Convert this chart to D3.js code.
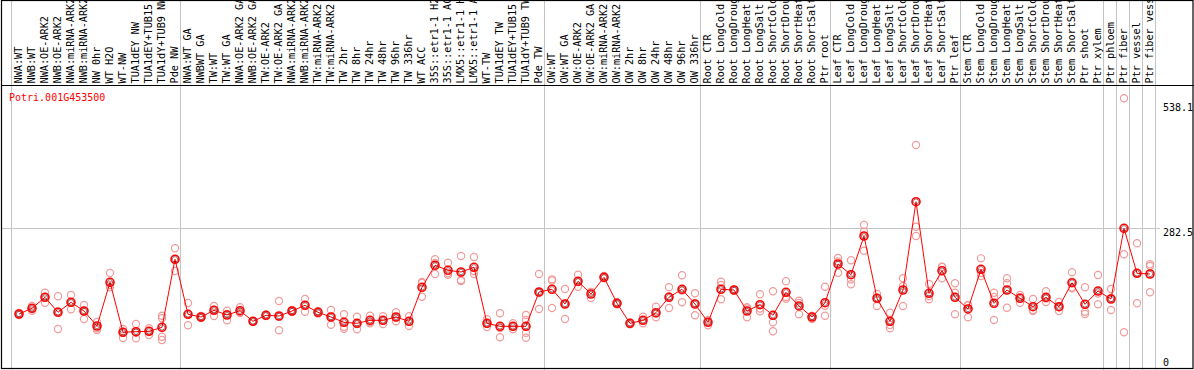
<!DOCTYPE html>
<html><head><meta charset="utf-8">
<script src="https://cdn.jsdelivr.net/npm/d3@7"></script>
<style>html,body{margin:0;padding:0;background:#fff;}svg{display:block;}</style>
</head><body>
<svg id="c" width="1194" height="370"></svg>
<script>
const gene = "Potri.001G453500";
const categories = ["NWA:WT","NWB:WT","NWA:OE-ARK2","NWB:OE-ARK2","NWA:miRNA-ARK2","NWB:miRNA-ARK2","NW 0hr","WT H2O","WT-NW","TUA1dEY NW","TUA1dEY+TUB15 NW","TUA1dY+TUB9 NW","Pde NW",
"NWA:WT GA","NWBWT GA","TW:WT","TW:WT GA","NWA:OE-ARK2 GA","NWB:OE-ARK2 GA","TW:OE-ARK2","TW:OE-ARK2 GA","NWA:miRNA-ARK2","NWB:miRNA-ARK2","TW:miRNA-ARK2","TW:miRNA-ARK2","TW 2hr","TW 8hr","TW 24hr","TW 48hr","TW 96hr","TW 336hr","WT ACC","35S::etr1-1 H2O","35S::etr1-1 ACC","LMX5::etr1-1 H2O","LMX5::etr1-1 ACC","WT-TW","TUA1dEY TW","TUA1dEY+TUB15 TW","TUA1dY+TUB9 TW","Pde TW",
"OW:WT","OW:WT GA","OW:OE-ARK2","OW:OE-ARK2 GA","OW:miRNA-ARK2","OW:miRNA-ARK2","OW 2hr","OW 8hr","OW 24hr","OW 48hr","OW 96hr","OW 336hr",
"Root CTR","Root LongCold","Root LongDrought","Root LongHeat","Root LongSalt","Root ShortCold","Root ShortDrought","Root ShortHeat","Root ShortSalt","Ptr root",
"Leaf CTR","Leaf LongCold","Leaf LongDrought","Leaf LongHeat","Leaf LongSalt","Leaf ShortCold","Leaf ShortDrought","Leaf ShortHeat","Leaf ShortSalt","Ptr leaf",
"Stem CTR","Stem LongCold","Stem LongDrought","Stem LongHeat","Stem LongSalt","Stem ShortCold","Stem ShortDrought","Stem ShortHeat","Stem ShortSalt","Ptr shoot","Ptr xylem",
"Ptr phloem","Ptr fiber","Ptr vessel","Ptr fiber vessel"];
const means = [114.0,125.2,146.9,117.4,137.0,119.9,90.4,176.4,78.1,79.2,80.0,87.9,221.6,
113.4,108.1,121.3,112.1,120.5,99.7,111.5,110.1,119.9,131.1,117.4,108.1,97.7,95.7,101.6,101.6,108.1,99.7,166.5,209.8,199.9,196.6,205.8,95.7,89.8,89.8,89.8,157.3,
162.6,133.7,178.3,153.3,186.2,135.1,95.7,101.6,116.6,146.9,162.6,133.7,
97.7,162.6,161.2,119.9,132.3,111.5,156.7,129.8,108.1,136.2,
212.3,191.3,267.4,144.9,99.7,161.2,334.8,154.7,199.2,146.9,
123.9,201.9,135.1,161.2,144.9,128.4,146.9,128.4,175.6,133.1,159.2,
143.5,282.5,194.0,192.7];
const replicates = [[112,116,114],[129.8,120.5,125.2],[155.9,136.2,147.4],[148.8,84.5,118.9],[151.4,123.3,136],[131.7,104.2,119.9],[98.3,82.6,85.9],[194.6,166.5,171.0],[84.5,66.8,78.6],[94.4,66.3,77.3],[85.9,72.7,80.6],[110.7,105.6,69.4,62.9],[243.2,198.6,222.2],
[135.7,91.8,114],[106,110,108],[129.8,110.1,121.9],[120.5,101.6,114.0],[127.2,118,116],[100.3,99,99.7],[112,110,112.6],[139.6,82.0,108.7],[118,122,119.9],[143.5,118.5,131.6],[117.4,115,120],[121.9,93.0,109.2],[113.4,89.1,85.1],[108.7,83.9,94.4],[110.7,95.7,98.3],[109.5,94.4,101.2],[117.4,99.7,107.5],[109.5,90.4,99.3],[176.9,148.0,175.0],[221.6,192.7,214.3],[214.9,191.3,194.6],[228.1,178.9,180.9],[226.1,192.7,198.6],[103.6,88.5,95.4],[115.4,68.2,86.5],[95.7,83.9,89.8],[112.1,102.2,77.3,67.4],[192.7,123.9,156.3],
[182.2,125.8,179.9],[163.2,104.2,133.7],[191.3,167.7,176.9],[145.5,157.3,157.1],[184.2,188.7,185.8],[135.1,133,137],[95.7,94,97],[108.7,95.7,101.2],[128.4,107.5,115],[166.5,125.8,148.4],[190.1,137.0,160.2],[154.7,111.5,134.7],
[98.3,91.8,102.2],[177.5,171.0,142.9],[161.2,160.2,162],[127.2,107.5,124.8],[152.8,119.3,124.8],[158.7,97.7,80.0],[178.3,144.1,147.4],[140.2,113.4,135.7],[104.2,110.1,110],[167.7,110.7,130.3],
[224.1,195.2,217.2],[219.6,172.4,181.9],[289.0,275.8,238.5],[153.3,129.8,145.5],[116.6,85.9,92.4],[184.2,129.8,169.1],[446.3,285.7,267.4],[173.0,142.9,149.4],[207.0,184.2,206.4],[174.4,113.4,155.9],
[131.7,107.5,130.7],[223.4,188.7,194.6],[155.9,102.2,147.4],[184.2,174.4,126.4],[151.4,136.2,147.2],[143.5,119.9,121.9],[158.7,137.6,144.5],[137.6,119.9,127.8],[196.0,164.6,166.1],[166.5,118.5,114.0],[190.7,133.1,154.3],
[163.2,121.9,145.5],[538.1,231.4,78.1],[253.0,135.1,194.6],[211.7,156.7,208.4]];
const groupBreaks = [0,13,41,53,63,73,84,85,86,87,88];
const yTickValues = [0,282.5,538.1];
const yTickLabels = ["0","282.5","538.1"];

const svg = d3.select("#c");
const W = 1194, H = 370, headerH = 85;
const x = d3.scaleBand().domain(d3.range(categories.length)).range([11, 11 + 13*categories.length]).padding(0);
const y = d3.scaleLinear().domain([0, 538.1]).range([372, 98.3]);
const px = i => x(i) + 8;
const font = "'DejaVu Sans Mono', monospace";

// vertical group separators
svg.append("g").selectAll("line").data(groupBreaks).join("line")
  .attr("x1", d => x(d) ?? x.range()[1]).attr("x2", d => x(d) ?? x.range()[1])
  .attr("y1", 0).attr("y2", H)
  .attr("transform", "translate(0.5,0)")
  .attr("stroke", "#c4c4c4").attr("stroke-width", 1);

// horizontal grid at mid tick
svg.append("line").attr("x1", 2).attr("x2", 1160)
  .attr("y1", Math.round(y(282.5)) + 0.5).attr("y2", Math.round(y(282.5)) + 0.5)
  .attr("stroke", "#c4c4c4");

// frame
svg.append("rect").attr("x", 1.5).attr("y", 0.5).attr("width", W - 2.5).attr("height", 368)
  .attr("fill", "none").attr("stroke", "#000").attr("stroke-width", 1.2);
svg.append("line").attr("x1", 1).attr("x2", W).attr("y1", headerH + 0.5).attr("y2", headerH + 0.5)
  .attr("stroke", "#000").attr("stroke-width", 1.2);

// header labels (clipped at the top edge as in the original)
svg.append("clipPath").attr("id", "hc").append("rect").attr("x", 0).attr("y", 1).attr("width", W).attr("height", headerH - 1);
svg.append("g").attr("clip-path", "url(#hc)").selectAll("text").data(categories).join("text")
  .attr("transform", (d, i) => `translate(${px(i) - 0.5},83.5) rotate(-90)`)
  .attr("dy", "0.35em")
  .attr("font-family", font).attr("font-size", 10.2).attr("fill", "#000")
  .text(d => d);

// gene name
svg.append("text").attr("x", 9).attr("y", 101).attr("font-family", font).attr("font-size", 10)
  .attr("fill", "#ff0000").text(gene);

// y labels
svg.append("g").selectAll("text").data(yTickValues).join("text")
  .attr("x", 1163)
  .attr("y", d => Math.max(Math.min(y(d) + 8, 365.5), 110.5))
  .attr("font-family", font).attr("font-size", 10).attr("fill", "#000")
  .text((d, i) => yTickLabels[i]);

// replicates
const repPts = [];
replicates.forEach((arr, i) => arr.forEach(v => repPts.push({i, v})));
svg.append("g").selectAll("circle").data(repPts).join("circle")
  .attr("cx", d => px(d.i)).attr("cy", d => y(d.v)).attr("r", 3.6)
  .attr("fill", "none").attr("stroke", "#ef9c9c").attr("stroke-width", 1.2);

// mean line
svg.append("path").datum(means)
  .attr("d", d3.line().x((d, i) => px(i)).y(d => y(d)))
  .attr("fill", "none").attr("stroke", "#ff0000").attr("stroke-width", 1);

// mean circles
const mg = svg.append("g").selectAll("g").data(means).join("g")
  .attr("transform", (d, i) => `translate(${px(i)},${y(d)})`);
mg.append("circle").attr("r", 4).attr("fill", "none").attr("stroke", "#ff0000").attr("stroke-width", 1.6);
mg.append("circle").attr("r", 2.7).attr("fill", "none").attr("stroke", "#400").attr("stroke-width", 0.5);
</script>
</body></html>
